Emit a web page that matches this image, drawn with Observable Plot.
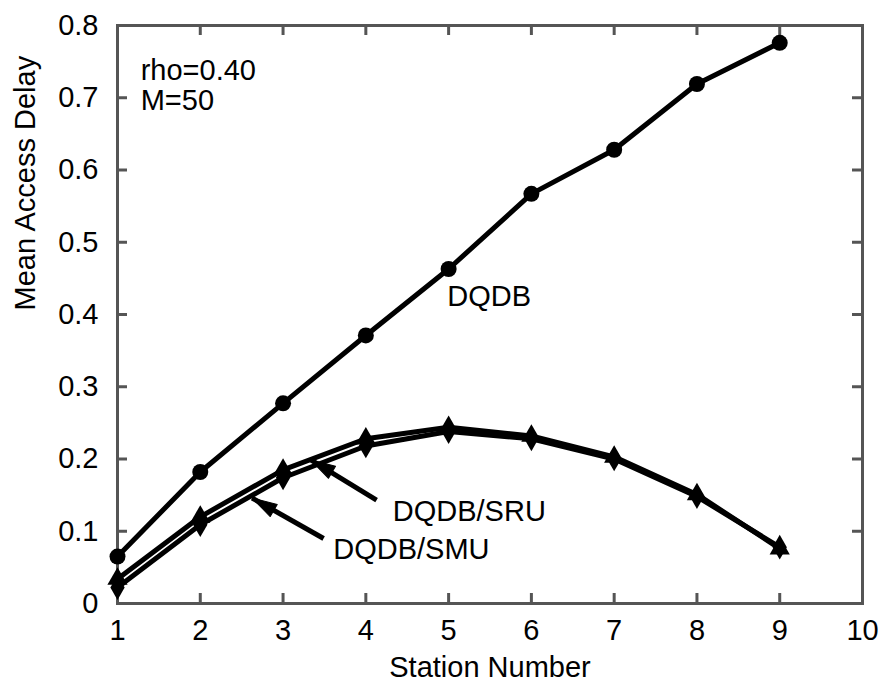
<!DOCTYPE html>
<html>
<head>
<meta charset="utf-8">
<script src="https://cdn.jsdelivr.net/npm/d3@7"></script>
<script src="https://cdn.jsdelivr.net/npm/@observablehq/plot@0.6"></script>
<style>
  html, body { margin: 0; padding: 0; background: white; }
</style>
</head>
<body>
<div id="chart"></div>
<script>
// Station numbers
const stations = [1, 2, 3, 4, 5, 6, 7, 8, 9];
// Mean access delay per series
const dqdb = [0.065, 0.182, 0.277, 0.371, 0.463, 0.567, 0.628, 0.719, 0.776];
const dqdbSRU = [0.034, 0.120, 0.185, 0.228, 0.244, 0.232, 0.203, 0.151, 0.076];
const dqdbSMU = [0.022, 0.109, 0.174, 0.218, 0.238, 0.228, 0.200, 0.148, 0.078];

// Axis ticks
const xTicks = [1, 2, 3, 4, 5, 6, 7, 8, 9, 10];
const yTicks = [0, 0.1, 0.2, 0.3, 0.4, 0.5, 0.6, 0.7, 0.8];
const yTickLabels = ["0", "0.1", "0.2", "0.3", "0.4", "0.5", "0.6", "0.7", "0.8"];

// Annotations
const notes = [
  {x: 1.28, y: 0.738, text: "rho=0.40", anchor: "start"},
  {x: 1.28, y: 0.696, text: "M=50", anchor: "start"},
  {x: 5.49, y: 0.424, text: "DQDB", anchor: "middle"},
  {x: 5.25, y: 0.127, text: "DQDB/SRU", anchor: "middle"},
  {x: 4.55, y: 0.075, text: "DQDB/SMU", anchor: "middle"}
];
const arrows = [
  {x1: 4.13, y1: 0.143, x2: 3.33, y2: 0.199},
  {x1: 3.49, y1: 0.090, x2: 2.626, y2: 0.146}
];

const seriesNames = ["DQDB", "DQDB/SRU", "DQDB/SMU"];
const data = [];
stations.forEach((s, i) => {
  data.push({station: s, delay: dqdb[i], series: seriesNames[0]});
  data.push({station: s, delay: dqdbSRU[i], series: seriesNames[1]});
  data.push({station: s, delay: dqdbSMU[i], series: seriesNames[2]});
});
const bySeries = name => data.filter(d => d.series === name);

const W = 889, H = 685;
const mTop = 25, mBottom = 82, mLeft = 117, mRight = 27;
const innerH = H - mTop - mBottom;
const innerW = W - mLeft - mRight;
const FONT = 29;

// filled arrowhead shape for Plot.vector (tip at the vector end)
const headShape = {
  draw(context, l, r) {
    context.moveTo(0, -l);
    context.lineTo(r, 0);
    context.lineTo(-r, 0);
    context.closePath();
  }
};

const chart = Plot.plot({
  width: W,
  height: H,
  marginTop: mTop,
  marginBottom: mBottom,
  marginLeft: mLeft,
  marginRight: mRight,
  x: {domain: [1, 10]},
  y: {domain: [0, 0.8]},
  style: {fontFamily: "'Liberation Sans', Arial, Helvetica, sans-serif", fontSize: FONT + "px", color: "black", background: "white"},
  marks: [
    // inward ticks on all four sides
    Plot.tickX(xTicks, {x: d => d, insetTop: innerH - 10, stroke: "#555", strokeWidth: 3}),
    Plot.tickX(xTicks, {x: d => d, insetBottom: innerH - 10, stroke: "#555", strokeWidth: 3}),
    Plot.tickY(yTicks, {y: d => d, insetRight: innerW - 10, stroke: "#555", strokeWidth: 3}),
    Plot.tickY(yTicks, {y: d => d, insetLeft: innerW - 10, stroke: "#555", strokeWidth: 3}),
    Plot.frame({stroke: "#555", strokeWidth: 3}),
    Plot.axisX({ticks: xTicks, tickSize: 0, tickPadding: 16, label: null, fontSize: FONT}),
    Plot.axisY({ticks: yTicks, tickSize: 0, tickPadding: 19, label: null, fontSize: FONT,
      tickFormat: d => yTickLabels[yTicks.indexOf(d)]}),
    Plot.text(["Station Number"], {frameAnchor: "bottom", lineAnchor: "middle", dy: 64, fontSize: FONT}),
    Plot.text(["Mean Access Delay"], {frameAnchor: "left", lineAnchor: "middle", dx: -92, dy: -4, rotate: -90, fontSize: FONT}),
    // series lines
    Plot.line(bySeries("DQDB"), {x: "station", y: "delay", stroke: "black", strokeWidth: 5}),
    Plot.line(bySeries("DQDB/SRU"), {x: "station", y: "delay", stroke: "black", strokeWidth: 5}),
    Plot.line(bySeries("DQDB/SMU"), {x: "station", y: "delay", stroke: "black", strokeWidth: 5}),
    Plot.dot(bySeries("DQDB"), {x: "station", y: "delay", r: 8, fill: "black", symbol: "circle"}),
    Plot.dot(bySeries("DQDB/SRU"), {x: "station", y: "delay", r: 7.5, fill: "black", symbol: "triangle"}),
    Plot.dot(bySeries("DQDB/SMU"), {x: "station", y: "delay", r: 7.5, fill: "black", symbol: "diamond"}),
    // annotations
    Plot.text(notes.filter(d => d.anchor === "start"), {x: "x", y: "y", text: "text", textAnchor: "start", fontSize: FONT}),
    Plot.text(notes.filter(d => d.anchor === "middle"), {x: "x", y: "y", text: "text", textAnchor: "middle", fontSize: FONT}),
    Plot.link(arrows, {x1: "x1", y1: "y1", x2: "x2", y2: "y2", stroke: "black", strokeWidth: 5}),
    Plot.vector(arrows, {x: "x2", y: "y2", length: 25, r: 7, rotate: -60, anchor: "end",
      shape: headShape, fill: "black", stroke: "black", strokeWidth: 1})
  ]
});
document.getElementById("chart").appendChild(chart);
</script>
</body>
</html>
